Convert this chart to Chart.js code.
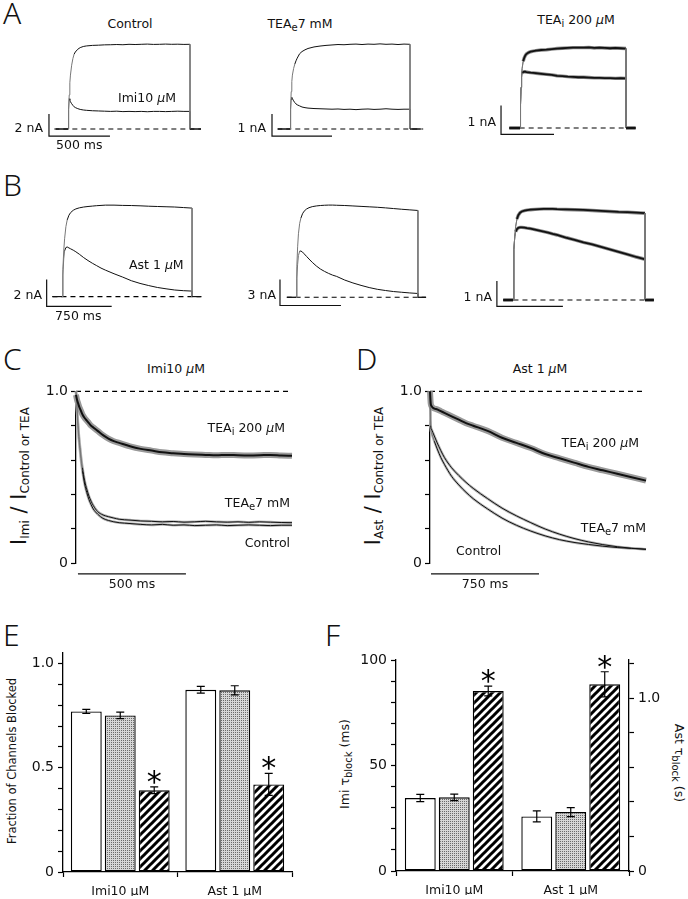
<!DOCTYPE html>
<html>
<head>
<meta charset="utf-8">
<script src="https://cdn.jsdelivr.net/npm/chart.js@4.4.1/dist/chart.umd.min.js"></script>
<style>
html, body { margin: 0; padding: 0; background: #fff; }
#fig { position: relative; width: 688px; height: 899px; overflow: hidden; font-family: "DejaVu Sans", sans-serif; color: #111; }
#fig canvas { position: absolute; }
.lab { position: absolute; white-space: nowrap; line-height: 1; font-size: 12.5px; }
.lab sub { font-size: 0.8em; vertical-align: -0.35em; line-height: 0; }
.big { font-family: "Noto Sans", sans-serif; font-size: 30px; font-weight: 300; }
.yt { font-size: 21px; }
.yt sub { font-size: 12px; vertical-align: -0.3em; }
</style>
</head>
<body>
<div id="fig"></div>
<script>
// ---------- data (time in ms, currents in nA) ----------

// A: Imi 10 uM block, step currents
const tA = [-100, 0, 5, 10, 15, 20, 30, 40, 50, 60, 80, 100, 125, 150, 200, 250, 300, 350, 400, 450, 500, 550, 600, 650, 700, 750, 800, 850, 900, 950, 1000, 1000, 1090];
const aCtrl     = [0, 0, 1.8, 3.1, 4.2, 4.9, 5.8, 6.4, 6.8, 7.0, 7.25, 7.4, 7.5, 7.55, 7.6, 7.62, 7.65, 7.66, 7.68, 7.66, 7.7, 7.68, 7.7, 7.72, 7.69, 7.7, 7.72, 7.7, 7.71, 7.69, 7.7, 0, 0];
const aCtrlImi  = [0, 0, 1.8, 2.75, 2.62, 2.48, 2.3, 2.15, 2.02, 1.95, 1.85, 1.78, 1.73, 1.7, 1.66, 1.64, 1.62, 1.6, 1.62, 1.58, 1.6, 1.58, 1.6, 1.57, 1.6, 1.6, 1.58, 1.6, 1.62, 1.6, 1.6, 0, 0];
const aTeae     = [0, 0, 0.9, 1.7, 2.15, 2.45, 2.75, 2.95, 3.1, 3.22, 3.42, 3.52, 3.6, 3.66, 3.73, 3.77, 3.8, 3.82, 3.84, 3.83, 3.85, 3.86, 3.84, 3.86, 3.85, 3.87, 3.85, 3.86, 3.84, 3.86, 3.85, 0, 0];
const aTeaeImi  = [0, 0, 0.9, 1.35, 1.44, 1.38, 1.28, 1.2, 1.14, 1.1, 1.05, 1.0, 0.97, 0.95, 0.93, 0.92, 0.91, 0.9, 0.91, 0.89, 0.9, 0.88, 0.9, 0.91, 0.89, 0.9, 0.92, 0.9, 0.89, 0.9, 0.9, 0, 0];
const aTeai     = [0, 0, 0.8, 1.4, 1.8, 2.05, 2.3, 2.42, 2.5, 2.55, 2.6, 2.63, 2.65, 2.67, 2.69, 2.7, 2.72, 2.74, 2.75, 2.76, 2.77, 2.77, 2.77, 2.78, 2.76, 2.77, 2.76, 2.75, 2.76, 2.75, 2.74, 0, 0];
const aTeaiImi  = [0, 0, 0.8, 1.4, 1.75, 1.9, 1.93, 1.94, 1.94, 1.93, 1.92, 1.91, 1.9, 1.89, 1.87, 1.85, 1.83, 1.8, 1.79, 1.77, 1.76, 1.75, 1.75, 1.74, 1.73, 1.73, 1.72, 1.72, 1.71, 1.72, 1.71, 0, 0];

// B: Ast 1 uM block
const tB = [-110, 0, 10, 20, 30, 45, 60, 80, 100, 130, 160, 200, 250, 300, 350, 400, 450, 500, 600, 700, 800, 900, 1000, 1100, 1200, 1300, 1400, 1500, 1500, 1600];
const bCtrl     = [0, 0, 2.0, 3.4, 4.3, 5.2, 5.7, 6.05, 6.25, 6.42, 6.52, 6.6, 6.66, 6.7, 6.73, 6.76, 6.78, 6.8, 6.8, 6.78, 6.77, 6.75, 6.72, 6.7, 6.68, 6.66, 6.62, 6.58, 0, 0];
const bCtrlAst  = [0, 0, 1.6, 2.8, 3.4, 3.65, 3.69, 3.62, 3.55, 3.45, 3.33, 3.15, 2.9, 2.68, 2.48, 2.3, 2.12, 1.97, 1.7, 1.45, 1.18, 0.98, 0.82, 0.68, 0.58, 0.49, 0.44, 0.41, 0, 0];
const bTeae     = [0, 0, 3.5, 5.8, 7.3, 8.5, 9.1, 9.6, 9.9, 10.15, 10.3, 10.42, 10.5, 10.55, 10.58, 10.6, 10.6, 10.58, 10.55, 10.5, 10.45, 10.4, 10.35, 10.28, 10.2, 10.12, 10.05, 9.98, 0, 0];
const bTeaeAst  = [0, 0, 2.2, 3.8, 4.8, 5.3, 5.32, 5.2, 5.0, 4.7, 4.4, 4.02, 3.6, 3.25, 2.98, 2.75, 2.55, 2.4, 1.98, 1.65, 1.37, 1.12, 0.92, 0.78, 0.66, 0.58, 0.5, 0.44, 0, 0];
const bTeai     = [0, 0, 2.0, 2.5, 2.9, 3.2, 3.35, 3.45, 3.5, 3.53, 3.55, 3.57, 3.58, 3.59, 3.6, 3.6, 3.6, 3.59, 3.58, 3.57, 3.56, 3.54, 3.52, 3.5, 3.48, 3.47, 3.45, 3.43, 0, 0];
const bTeaiAst  = [0, 0, 2.0, 2.5, 2.7, 2.8, 2.85, 2.87, 2.87, 2.86, 2.84, 2.82, 2.78, 2.74, 2.7, 2.66, 2.61, 2.57, 2.47, 2.38, 2.28, 2.2, 2.1, 2.0, 1.9, 1.8, 1.7, 1.61, 0, 0];

// C: I_Imi / I_Control or TEA
const tC = [0, 5, 10, 15, 20, 25, 30, 40, 50, 60, 70, 80, 100, 125, 150, 175, 200, 250, 300, 350, 400, 450, 500, 550, 600, 650, 700, 750, 800, 850, 900, 950, 1000];
const cTeai = [0.98, 0.95, 0.93, 0.91, 0.895, 0.88, 0.865, 0.845, 0.83, 0.815, 0.8, 0.79, 0.77, 0.745, 0.725, 0.71, 0.7, 0.68, 0.665, 0.655, 0.645, 0.64, 0.635, 0.632, 0.63, 0.628, 0.63, 0.628, 0.627, 0.628, 0.63, 0.627, 0.625];
const cTeae = [1.0, 0.9, 0.8, 0.72, 0.66, 0.6, 0.555, 0.48, 0.43, 0.39, 0.36, 0.335, 0.3, 0.28, 0.27, 0.262, 0.255, 0.25, 0.245, 0.243, 0.24, 0.242, 0.238, 0.24, 0.243, 0.24, 0.238, 0.24, 0.237, 0.24, 0.238, 0.236, 0.235];
const cCtrl = [1.0, 0.88, 0.78, 0.7, 0.64, 0.58, 0.535, 0.46, 0.41, 0.37, 0.34, 0.315, 0.285, 0.26, 0.248, 0.24, 0.235, 0.23, 0.225, 0.222, 0.225, 0.22, 0.222, 0.218, 0.22, 0.222, 0.218, 0.22, 0.222, 0.22, 0.218, 0.22, 0.22];

// D: I_Ast / I_Control or TEA
const tD = [0, 5, 10, 20, 30, 50, 75, 100, 150, 200, 250, 300, 400, 500, 600, 700, 800, 900, 1000, 1100, 1200, 1300, 1400, 1500];
const dTeai = [1.0, 0.93, 0.915, 0.905, 0.9, 0.895, 0.885, 0.875, 0.855, 0.835, 0.815, 0.8, 0.77, 0.73, 0.7, 0.67, 0.635, 0.61, 0.585, 0.56, 0.54, 0.52, 0.5, 0.48];
const dTeae = [1.0, 0.8, 0.78, 0.76, 0.74, 0.7, 0.655, 0.615, 0.555, 0.51, 0.47, 0.435, 0.375, 0.32, 0.275, 0.235, 0.198, 0.168, 0.143, 0.123, 0.107, 0.095, 0.086, 0.08];
const dCtrl = [1.0, 0.79, 0.76, 0.735, 0.71, 0.665, 0.615, 0.575, 0.505, 0.455, 0.412, 0.375, 0.315, 0.262, 0.22, 0.186, 0.158, 0.136, 0.12, 0.108, 0.098, 0.09, 0.085, 0.08];
const ratioTicks = [0, 0.5, 1];
const ratioTickLabels = ['0', '0.5', '1.0'];

// E, F: summary bars (Control, TEAe 7 mM, TEAi 200 uM)
const groups = ['Imi10 μM', 'Ast 1 μM'];
const conditions = ['Control', 'TEAe 7 mM', 'TEAi 200 μM'];
const fracImi = [0.77, 0.751, 0.392];
const fracImiErr = [0.01, 0.016, 0.016];
const fracAst = [0.874, 0.871, 0.42];
const fracAstErr = [0.016, 0.022, 0.053];
const tauImi = [34.6, 34.9, 85.3];      // ms
const tauImiErr = [1.7, 1.5, 2.3];
const tauAst = [0.316, 0.341, 1.081];   // s
const tauAstErr = [0.032, 0.026, 0.073];
const starred = [false, false, true];
const fracTicks = [0, 0.5, 1], fracTickLabels = ['0', '0.5', '1.0'];
const imiTicks = [0, 50, 100], imiTickLabels = ['0', '50', '100'];
const astTicks = [0, 0.5, 1], astTickLabels = ['0', '0.5', '1.0'];

// ---------- layout ----------
const fig = document.getElementById('fig');
Chart.defaults.font.family = '"DejaVu Sans", sans-serif';
Chart.defaults.color = '#111';

const base = {
  animation: false, responsive: false, devicePixelRatio: 1, events: [],
  plugins: { legend: { display: false }, tooltip: { enabled: false } }
};

function makeCanvas(box) {
  const c = document.createElement('canvas');
  c.width = box.w; c.height = box.h;
  c.style.left = box.left + 'px'; c.style.top = box.top + 'px';
  c.style.width = box.w + 'px'; c.style.height = box.h + 'px';
  fig.appendChild(c);
  return c;
}

const zip = (t, v) => t.map((x, i) => ({ x, y: v[i] }));

function line(data, st) {
  return Object.assign({ data, borderColor: '#111', borderWidth: 1, pointRadius: 0,
    fill: false, tension: 0, clip: false }, st || {});
}

// the step on/off edges of the recordings are drawn thin and grey
const steep = c => Math.abs(c.p1.x - c.p0.x) < 1.5 && Math.abs(c.p1.y - c.p0.y) > 4;
const edges = { segment: { borderWidth: c => steep(c) ? 1 : undefined, borderColor: c => steep(c) ? '#777' : undefined } };

const thin = Object.assign({ borderWidth: 1 }, edges);
const thickBand = Object.assign({ borderWidth: 3.4, borderColor: '#8a8a8a' }, edges);
const thickCore = Object.assign({ borderWidth: 1.8, borderColor: '#111' }, edges);
const dashed = { borderDash: [5, 4], borderColor: '#000', borderWidth: 1.1 };

// a panel of raw current traces, no axes, with its scale bar
function traceChart(box, series, baseline, bar) {
  const xmin = (box.left - box.t0) / box.pxMs, xmax = xmin + box.w / box.pxMs;
  const ymax = (box.y0 - box.top) / box.pxUnit, ymin = ymax - box.h / box.pxUnit;
  const datasets = series.map(s => line(zip(s.t, s.v), s.st));
  datasets.push(line([{ x: baseline[0], y: 0 }, { x: baseline[1], y: 0 }], dashed));
  datasets.push(line([{ x: bar.t, y: bar.v + bar.dv }, { x: bar.t, y: bar.v }, { x: bar.t + bar.dt, y: bar.v }], { borderWidth: 1.2 }));
  new Chart(makeCanvas(box), {
    type: 'line', data: { datasets },
    options: Object.assign({}, base, {
      layout: { padding: 0 },
      scales: {
        x: { type: 'linear', display: false, min: xmin, max: xmax },
        y: { display: false, min: ymin, max: ymax }
      }
    })
  });
}

function stepTicks(a, b, step) {
  const out = [];
  for (let i = 0; a + i * step <= b + 1e-9; i++) out.push({ value: +(a + i * step).toFixed(6) });
  return out;
}
function tickLabeler(vals, labs) {
  return v => { const k = vals.findIndex(u => Math.abs(u - v) < 1e-6); return k < 0 ? '' : labs[k]; };
}
function yAxis(min, max, step, vals, labs, extra) {
  return Object.assign({
    min, max,
    afterBuildTicks: s => { s.ticks = stepTicks(min, max, step); },
    afterFit: s => { s.width = 40; },
    ticks: { font: { size: 14 }, padding: 4, color: '#111', callback: tickLabeler(vals, labs) },
    grid: { drawOnChartArea: false, tickLength: 5, tickColor: '#000', tickWidth: 1.2 },
    border: { display: true, color: '#000', width: 1.3 }
  }, extra || {});
}

// normalised decay panels C and D
function decayChart(box, series, bar) {
  const datasets = series.map(s => line(zip(s.t, s.v), Object.assign({ cubicInterpolationMode: 'monotone' }, s.st)));
  datasets.push(line([{ x: 0, y: 1 }, { x: box.xmax, y: 1 }], dashed));
  datasets.push(line([{ x: bar.t, y: bar.v }, { x: bar.t + bar.dt, y: bar.v }], { borderWidth: 1.2 }));
  new Chart(makeCanvas(box), {
    type: 'line', data: { datasets },
    options: Object.assign({}, base, {
      layout: { padding: { top: box.padTop, right: box.padRight, bottom: box.padBottom, left: 0 } },
      scales: {
        x: { type: 'linear', display: false, min: 0, max: box.xmax },
        y: yAxis(0, 1, 0.1, ratioTicks, ratioTickLabels, { ticks: { font: { size: 14 }, padding: 3, color: '#111', callback: tickLabeler(ratioTicks, ratioTickLabels) } })
      }
    })
  });
}

// fills
function stipple() {
  const c = document.createElement('canvas'); c.width = 2; c.height = 2;
  const g = c.getContext('2d');
  g.fillStyle = '#d6d6d6'; g.fillRect(0, 0, 2, 2);
  g.fillStyle = '#6a6a6a'; g.fillRect(0, 0, 1, 1);
  return g.createPattern(c, 'repeat');
}
function hatch() {
  const c = document.createElement('canvas'); c.width = 8; c.height = 8;
  const g = c.getContext('2d');
  g.fillStyle = '#fff'; g.fillRect(0, 0, 8, 8);
  g.strokeStyle = '#000'; g.lineWidth = 3;
  g.beginPath();
  g.moveTo(-2, 10); g.lineTo(10, -2);
  g.moveTo(-6, 6); g.lineTo(6, -6);
  g.moveTo(2, 14); g.lineTo(14, 2);
  g.stroke();
  return g.createPattern(c, 'repeat');
}
const fills = ['#fff', stipple(), hatch()];

const errorBars = {
  id: 'errorBars',
  afterDatasetsDraw(chart) {
    const ctx = chart.ctx;
    chart.data.datasets.forEach((ds, di) => {
      if (!ds.errors) return;
      const meta = chart.getDatasetMeta(di);
      const ys = chart.scales[meta.yAxisID];
      meta.data.forEach((bar, i) => {
        const v = ds.data[i];
        if (v == null) return;
        const top = ys.getPixelForValue(v + ds.errors[i]);
        const bot = ys.getPixelForValue(v - ds.errors[i]);
        ctx.save();
        ctx.strokeStyle = '#000'; ctx.lineWidth = 1.2;
        ctx.beginPath();
        ctx.moveTo(bar.x, top); ctx.lineTo(bar.x, bot);
        ctx.moveTo(bar.x - 4, top); ctx.lineTo(bar.x + 4, top);
        ctx.moveTo(bar.x - 4, bot); ctx.lineTo(bar.x + 4, bot);
        ctx.stroke();
        if (ds.star && ds.star[i]) {
          ctx.fillStyle = '#000';
          ctx.font = '30px "DejaVu Sans"';
          ctx.textAlign = 'center'; ctx.textBaseline = 'alphabetic';
          ctx.fillText('*', bar.x, top + 5);
        }
        ctx.restore();
      });
    });
  }
};

function barChart(box, datasets, yScales, catPct) {
  new Chart(makeCanvas(box), {
    type: 'bar',
    data: { labels: groups, datasets },
    options: Object.assign({}, base, {
      layout: { padding: { top: box.padTop, right: box.padRight || 0, left: 0, bottom: 0 } },
      datasets: { bar: { categoryPercentage: catPct, barPercentage: 0.91, borderColor: '#000',
        borderWidth: 1.4, borderSkipped: false, skipNull: true } },
      scales: Object.assign({
        x: {
          grid: { offset: true, drawOnChartArea: false, tickLength: 5, tickColor: '#000', tickWidth: 1.2 },
          border: { display: true, color: '#000', width: 1.3 },
          ticks: { font: { size: 12.5 }, padding: 7, color: '#111' },
          afterFit: s => { s.height = 24; }
        }
      }, yScales)
    }),
    plugins: [errorBars]
  });
}

// ---- A ----
traceChart({ left: 40, top: 35, w: 175, h: 112, t0: 68, pxMs: 0.122, y0: 129, pxUnit: 11 },
  [{ t: tA, v: aCtrl, st: thin }, { t: tA, v: aCtrlImi, st: thin }],
  [-112, 1090], { t: -156, v: -0.64, dt: 500, dv: 2 });
traceChart({ left: 262, top: 35, w: 175, h: 112, t0: 290, pxMs: 0.12, y0: 129, pxUnit: 22 },
  [{ t: tA, v: aTeae, st: thin }, { t: tA, v: aTeaeImi, st: thin }],
  [-106, 1110], { t: -150, v: -0.32, dt: 500, dv: 1 });
traceChart({ left: 490, top: 35, w: 160, h: 112, t0: 520, pxMs: 0.106, y0: 128, pxUnit: 29 },
  [{ t: tA, v: aTeai, st: thickCore }, { t: tA, v: aTeaiImi, st: thickCore },
   { t: tA, v: aTeai, st: thickBand }, { t: tA, v: aTeaiImi, st: thickBand }],
  [-88, 1094], { t: -179, v: -0.22, dt: 500, dv: 1 });

// ---- B ----
traceChart({ left: 35, top: 190, w: 180, h: 125, t0: 62, pxMs: 0.0867, y0: 296.6, pxUnit: 13.45 },
  [{ t: tB, v: bCtrl, st: thin }, { t: tB, v: bCtrlAst, st: thin }],
  [-110, 1615], { t: -177, v: -0.72, dt: 750, dv: 2 });
traceChart({ left: 270, top: 190, w: 170, h: 125, t0: 296, pxMs: 0.0813, y0: 297.3, pxUnit: 8.7 },
  [{ t: tB, v: bTeae, st: thin }, { t: tB, v: bTeaeAst, st: thin }],
  [-115, 1597], { t: -197, v: -0.94, dt: 750, dv: 3 });
traceChart({ left: 485, top: 190, w: 175, h: 125, t0: 513, pxMs: 0.088, y0: 300, pxUnit: 25.3 },
  [{ t: tB, v: bTeai, st: thickCore }, { t: tB, v: bTeaiAst, st: thickCore },
   { t: tB, v: bTeai, st: thickBand }, { t: tB, v: bTeaiAst, st: thickBand }],
  [-97, 1568], { t: -183, v: -0.25, dt: 750, dv: 1 });

// ---- C, D ----
const band = { borderColor: '#9a9a9a', borderWidth: 6 };
const core = { borderColor: '#111', borderWidth: 2 };
const halo = { borderColor: '#b5b5b5', borderWidth: 2.6 };
decayChart({ left: 36, top: 380, w: 264, h: 205, padTop: 9, padRight: 8, padBottom: 22, xmax: 1000 },
  [{ t: tC, v: cTeai, st: core }, { t: tC, v: cTeae, st: thin }, { t: tC, v: cCtrl, st: thin },
   { t: tC, v: cTeai, st: band }, { t: tC, v: cTeae, st: halo }, { t: tC, v: cCtrl, st: halo }],
  { t: 9, v: -0.063, dt: 500 });
decayChart({ left: 390, top: 380, w: 264, h: 205, padTop: 9, padRight: 8, padBottom: 22, xmax: 1500 },
  [{ t: tD, v: dTeai, st: core }, { t: tD, v: dTeae, st: thin }, { t: tD, v: dCtrl, st: thin },
   { t: tD, v: dTeai, st: band }, { t: tD, v: dTeae, st: halo }, { t: tD, v: dCtrl, st: halo }],
  { t: 7, v: -0.063, dt: 750 });

// ---- E ----
barChart({ left: 23, top: 640, w: 279, h: 256, padTop: 12, padRight: 10 },
  conditions.map((c, k) => ({
    label: c, data: [fracImi[k], fracAst[k]], errors: [fracImiErr[k], fracAstErr[k]],
    star: [starred[k], starred[k]], backgroundColor: fills[k]
  })),
  { y: yAxis(0, 1.053, 0.1, fracTicks, fracTickLabels) }, 0.89);

// ---- F ----
barChart({ left: 356, top: 645, w: 313, h: 250, padTop: 15 },
  conditions.map((c, k) => ({
    label: c, data: [tauImi[k], null], errors: [tauImiErr[k], 0], yAxisID: 'y',
    star: [starred[k], false], backgroundColor: fills[k]
  })).concat(conditions.map((c, k) => ({
    label: c, data: [null, tauAst[k]], errors: [0, tauAstErr[k]], yAxisID: 'y2',
    star: [false, starred[k]], backgroundColor: fills[k]
  }))),
  {
    y: yAxis(0, 100, 10, imiTicks, imiTickLabels),
    y2: yAxis(0, 1.222, 0.1, astTicks, astTickLabels, { position: 'right' })
  }, 0.875);

// ---------- text ----------
function label(html, x, y, o) {
  o = o || {};
  const d = document.createElement('div');
  d.className = 'lab' + (o.cls ? ' ' + o.cls : '');
  d.innerHTML = html;
  d.style.left = x + 'px'; d.style.top = y + 'px';
  const tx = o.a === 'r' ? '-100%' : o.a === 'l' ? '0' : '-50%';
  d.style.transform = 'translate(' + tx + ',-50%)' + (o.rot ? ' rotate(' + o.rot + 'deg)' : '');
  if (o.size) d.style.fontSize = o.size + 'px';
  fig.appendChild(d);
}
const mu = '<i>μ</i>';

label('A', 3, 13, { a: 'l', cls: 'big' });
label('Control', 130, 24);
label('Imi10 ' + mu + 'M', 118, 98, { a: 'l' });
label('2 nA', 43, 128, { a: 'r' });
label('500 ms', 56, 145, { a: 'l' });
label('TEA<sub>e</sub>7 mM', 300, 24);
label('1 nA', 266, 128, { a: 'r' });
label('TEA<sub>i</sub> 200 ' + mu + 'M', 576, 20);
label('1 nA', 496, 122, { a: 'r' });

label('B', 3, 185, { a: 'l', cls: 'big' });
label('Ast 1 ' + mu + 'M', 129, 265, { a: 'l' });
label('2 nA', 42, 295, { a: 'r' });
label('750 ms', 55, 316, { a: 'l' });
label('3 nA', 276, 295, { a: 'r' });
label('1 nA', 492, 297, { a: 'r' });

label('C', 3, 359, { a: 'l', cls: 'big' });
label('Imi10 ' + mu + 'M', 176, 369);
label('TEA<sub>i</sub> 200 ' + mu + 'M', 285, 428, { a: 'r' });
label('TEA<sub>e</sub>7 mM', 290, 503, { a: 'r' });
label('Control', 290, 543, { a: 'r' });
label('500 ms', 132, 584);
label('I<sub>Imi</sub> / I<sub>Control or TEA</sub>', 19, 476, { cls: 'yt', rot: -90 });

label('D', 356, 359, { a: 'l', cls: 'big' });
label('Ast 1 ' + mu + 'M', 540, 369);
label('TEA<sub>i</sub> 200 ' + mu + 'M', 639, 443, { a: 'r' });
label('TEA<sub>e</sub>7 mM', 646, 528, { a: 'r' });
label('Control', 456, 551, { a: 'l' });
label('750 ms', 485, 584);
label('I<sub>Ast</sub> / I<sub>Control or TEA</sub>', 373, 476, { cls: 'yt', rot: -90 });

label('E', 3, 635, { a: 'l', cls: 'big' });
label('Fraction of Channels Blocked', 13, 761, { rot: -90, size: 11.5 });
label('F', 325, 635, { a: 'l', cls: 'big' });
label('Imi τ<sub>block</sub> (ms)', 345, 764, { rot: -90 });
label('Ast τ<sub>block</sub> (s)', 679, 763, { rot: 90 });
</script>
</body>
</html>
